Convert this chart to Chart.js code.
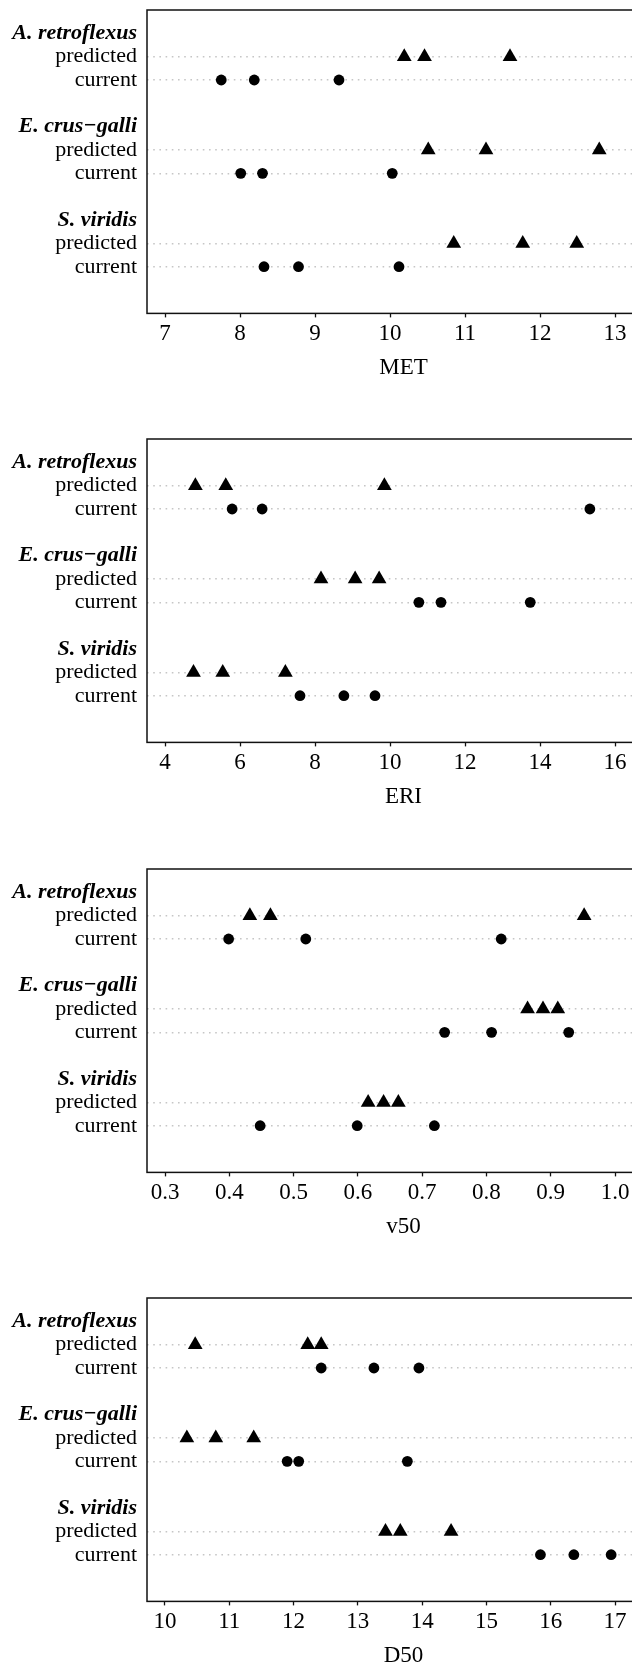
<!DOCTYPE html>
<html><head><meta charset="utf-8">
<script src="https://cdn.jsdelivr.net/npm/chart.js@4.4.0/dist/chart.umd.min.js"></script>
<style>
html,body{margin:0;padding:0;background:#fff;overflow:hidden;width:632px;height:1664px;position:relative;}
canvas{position:absolute;left:0;}
</style></head><body>
<canvas id="c0" width="660" height="388"></canvas>
<canvas id="c1" width="660" height="388"></canvas>
<canvas id="c2" width="660" height="388"></canvas>
<canvas id="c3" width="660" height="388"></canvas>
<script>
// ---- data ----
const groups = ['A. retroflexus', 'E. crus\u2212galli', 'S. viridis'];
const rowLabels = ['predicted', 'current'];
const axisTitles = ['MET', 'ERI', 'v50', 'D50'];

const metTicks = [7, 8, 9, 10, 11, 12, 13];
const eriTicks = [4, 6, 8, 10, 12, 14, 16];
const v50Ticks = [0.3, 0.4, 0.5, 0.6, 0.7, 0.8, 0.9, 1.0];
const d50Ticks = [10, 11, 12, 13, 14, 15, 16, 17];
const metTickLabels = ['7', '8', '9', '10', '11', '12', '13'];
const eriTickLabels = ['4', '6', '8', '10', '12', '14', '16'];
const v50TickLabels = ['0.3', '0.4', '0.5', '0.6', '0.7', '0.8', '0.9', '1.0'];
const d50TickLabels = ['10', '11', '12', '13', '14', '15', '16', '17'];

// rows: [A. retroflexus, E. crus-galli, S. viridis]
const metPredicted = [[10.19, 10.46, 11.60], [10.51, 11.28, 12.79], [10.85, 11.77, 12.49]];
const metCurrent   = [[7.75, 8.19, 9.32], [8.01, 8.30, 10.03], [8.32, 8.78, 10.12]];
const eriPredicted = [[4.81, 5.62, 9.85], [8.16, 9.07, 9.71], [4.76, 5.54, 7.21]];
const eriCurrent   = [[5.79, 6.59, 15.33], [10.77, 11.36, 13.74], [7.60, 8.77, 9.60]];
const v50Predicted = [[0.432, 0.464, 0.952], [0.864, 0.888, 0.911], [0.616, 0.640, 0.663]];
const v50Current   = [[0.399, 0.519, 0.823], [0.735, 0.808, 0.928], [0.448, 0.599, 0.719]];
const d50Predicted = [[10.47, 12.22, 12.43], [10.34, 10.79, 11.38], [13.43, 13.66, 14.45]];
const d50Current   = [[12.43, 13.25, 13.95], [11.90, 12.08, 13.77], [15.84, 16.36, 16.94]];

// ---- layout / style ----
const FONT = "'Liberation Serif', 'Times New Roman', serif";
const CANVAS_W = 660, CANVAS_H = 388, PAD_TOP = 4, PLOT_H = 303.4, LEFT = 147;
const frameTops = [10, 439.3, 869.3, 1298.3];

const panels = [
  {title: axisTitles[0], ticks: metTicks, labels: metTickLabels, pred: metPredicted, cur: metCurrent},
  {title: axisTitles[1], ticks: eriTicks, labels: eriTickLabels, pred: eriPredicted, cur: eriCurrent},
  {title: axisTitles[2], ticks: v50Ticks, labels: v50TickLabels, pred: v50Predicted, cur: v50Current},
  {title: axisTitles[3], ticks: d50Ticks, labels: d50TickLabels, pred: d50Predicted, cur: d50Current}
];

// y positions (dotchart style), ascending
const yTicks = [];
groups.forEach((g, gi) => {
  const base = 10 - 4 * gi;
  yTicks.push({value: base + 2, label: g, group: true});
  yTicks.push({value: base + 1, label: rowLabels[0], group: false});
  yTicks.push({value: base, label: rowLabels[1], group: false});
});
yTicks.sort((a, b) => a.value - b.value);
const yInfo = v => yTicks.find(t => Math.abs(t.value - v) < 1e-6);

const framePlugin = {
  id: 'frame',
  afterDraw(chart) {
    const {ctx, chartArea: a} = chart;
    ctx.save();
    ctx.strokeStyle = '#111';
    ctx.lineWidth = 1.5;
    ctx.strokeRect(a.left, a.top, a.right - a.left, a.bottom - a.top);
    ctx.restore();
  }
};
const zeroPad = s => { s.paddingTop = 0; s.paddingBottom = 0; s.paddingLeft = 0; s.paddingRight = 0; };

panels.forEach((p, i) => {
  const cv = document.getElementById('c' + i);
  cv.style.top = (frameTops[i] - PAD_TOP) + 'px';
  const first = p.ticks[0], last = p.ticks[p.ticks.length - 1];
  const ppu = 450 / (last - first);
  const xmin = first - (165 - LEFT) / ppu;
  const xmax = first + (CANVAS_W - 165) / ppu;

  const predData = [], curData = [];
  p.pred.forEach((vals, gi) => vals.forEach(v => predData.push({x: v, y: 10 - 4 * gi + 1})));
  p.cur.forEach((vals, gi) => vals.forEach(v => curData.push({x: v, y: 10 - 4 * gi})));

  new Chart(cv, {
    type: 'scatter',
    data: {
      datasets: [
        {label: 'predicted', data: predData, pointStyle: 'triangle', pointRadius: 8.5,
         backgroundColor: '#000', borderColor: '#000', borderWidth: 0},
        {label: 'current', data: curData, pointStyle: 'circle', pointRadius: 5.4,
         backgroundColor: '#000', borderColor: '#000', borderWidth: 0}
      ]
    },
    options: {
      responsive: false,
      animation: false,
      events: [],
      layout: {autoPadding: false, padding: {top: PAD_TOP, left: 0, right: 0, bottom: 0}},
      plugins: {legend: {display: false}, tooltip: {enabled: false}},
      scales: {
        x: {
          type: 'linear', min: xmin, max: xmax,
          afterBuildTicks: s => { s.ticks = p.ticks.map(v => ({value: v})); },
          afterFit: s => { s.height = CANVAS_H - PAD_TOP - PLOT_H; zeroPad(s); },
          ticks: {
            autoSkip: false, maxRotation: 0, padding: 2.8, color: '#000',
            font: {family: FONT, size: 23},
            callback: (v, idx) => p.labels[idx]
          },
          grid: {drawOnChartArea: false, drawTicks: true, tickLength: 4, tickColor: '#111', tickWidth: 1.3},
          border: {display: false},
          title: {display: true, text: p.title, color: '#000',
                  font: {family: FONT, size: 23}, padding: {top: 0, bottom: 12.6}}
        },
        y: {
          type: 'linear', min: 0, max: 13,
          afterBuildTicks: s => { s.ticks = yTicks.map(t => ({value: t.value})); },
          afterFit: s => { s.width = LEFT; zeroPad(s); },
          ticks: {
            autoSkip: false, padding: 10, color: '#000',
            font: ctx => {
              const t = ctx.tick && yInfo(ctx.tick.value);
              return (t && t.group) ? {family: FONT, size: 22, weight: 'bold', style: 'italic'}
                                    : {family: FONT, size: 22};
            },
            callback: v => { const t = yInfo(v); return t ? t.label : ''; }
          },
          grid: {
            drawTicks: false, lineWidth: 1.4,
            color: ctx => { const t = ctx.tick && yInfo(ctx.tick.value); return (t && !t.group) ? '#c6c6c6' : 'rgba(0,0,0,0)'; }
          },
          border: {display: false, dash: [1.6, 4.6]}
        }
      }
    },
    plugins: [framePlugin]
  });
});
</script>
</body></html>
